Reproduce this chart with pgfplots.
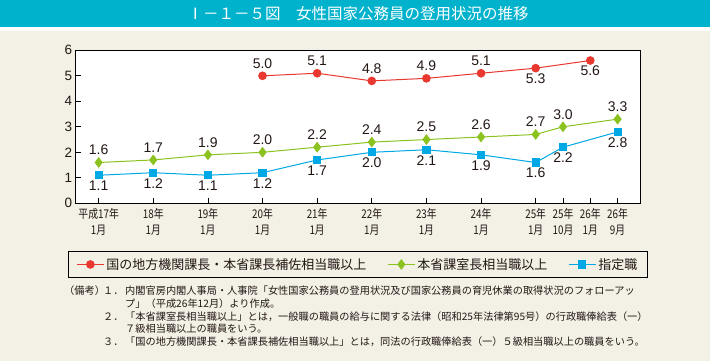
\documentclass[border=0pt]{standalone}
\usepackage{pgfplots}
\pgfplotsset{compat=1.18}
\usepackage{fontspec}
\setmainfont{Liberation Sans}
\newfontfamily\jp{Noto Sans CJK JP}
\newfontfamily\jpc[FakeStretch=0.82]{Noto Sans CJK JP}
\definecolor{bgc}{HTML}{F3F0E6}
\definecolor{titc}{HTML}{00B2CC}
\definecolor{cred}{HTML}{E8382F}
\definecolor{cgreen}{HTML}{8CC21F}
\definecolor{cblue}{HTML}{00A8E6}
\definecolor{ntext}{HTML}{231815}
\begin{document}
\begin{tikzpicture}
\useasboundingbox (0bp,0bp) rectangle (710bp,361bp);
\fill[bgc] (0bp,0bp) rectangle (710bp,361bp);
\fill[white] (0bp,330bp) rectangle (710bp,334.3bp);
\fill[titc] (0bp,334.3bp) rectangle (710bp,361bp);
\node[white, font=\jp\fontsize{15.5bp}{17bp}\selectfont] at (358bp,347bp) {Ⅰ－１－５図　女性国家公務員の登用状況の推移};
\begin{axis}[
  at={(75.7bp,157.7bp)}, anchor=south west,
  scale only axis, width=564.3bp, height=153bp,
  xmin=-0.42, xmax=9.91, ymin=0, ymax=6,
  axis background/.style={fill=white},
  axis line style={black, line width=1bp},
  every tick/.style={black, line width=0.8bp},
  major tick length=5bp,
  xtick pos=bottom, ytick pos=left,
  xtick={0,1,2,3,4,5,6,7,8,8.5,9,9.5},
  xticklabels={{平成17年\\1月},{18年\\1月},{19年\\1月},{20年\\1月},{21年\\1月},{22年\\1月},{23年\\1月},{24年\\1月},{25年\\1月},{25年\\10月},{26年\\1月},{26年\\9月}},
  xticklabel style={align=center, font=\jpc\fontsize{12bp}{15.6bp}\selectfont, text=ntext, yshift=-1.5bp},
  ytick={0,1,2,3,4,5,6},
  yticklabel style={font=\fontsize{13.5bp}{15bp}\selectfont, text=ntext},
  /pgf/number format/assume math mode=true,
  legend columns=3,
  legend cell align=left,
  legend style={at={(0.5,-0.31)}, anchor=north, draw=black, line width=1bp, fill=none,
    font=\jp\fontsize{13bp}{15bp}\selectfont, text=ntext,
    inner xsep=8bp, inner ysep=5bp,
    /tikz/every even column/.append style={column sep=19bp}},
  legend image code/.code={\draw[mark repeat=2,mark phase=2,#1] plot coordinates {(0bp,0bp) (13.5bp,0bp) (27bp,0bp)};},
]
\addplot[cred, line width=1bp, mark=*, mark size=3.8bp, mark options={fill=cred, draw=cred}]
  coordinates {(3,5.0)(4,5.1)(5,4.8)(6,4.9)(7,5.1)(8,5.3)(9,5.6)};
\addlegendentry{国の地方機関課長・本省課長補佐相当職以上}
\addplot[cgreen, line width=1bp, mark=diamond*, mark size=4.6bp, mark options={fill=cgreen, draw=cgreen}]
  coordinates {(0,1.6)(1,1.7)(2,1.9)(3,2.0)(4,2.2)(5,2.4)(6,2.5)(7,2.6)(8,2.7)(8.5,3.0)(9.5,3.3)};
\addlegendentry{本省課室長相当職以上}
\addplot[cblue, line width=1bp, mark=square*, mark size=3.6bp, mark options={fill=cblue, draw=cblue}]
  coordinates {(0,1.1)(1,1.2)(2,1.1)(3,1.2)(4,1.7)(5,2.0)(6,2.1)(7,1.9)(8,1.6)(8.5,2.2)(9.5,2.8)};
\addlegendentry{指定職}
% data labels
\pgfplotsset{lbl/.style={draw=none, mark=none, forget plot, nodes near coords,
  every node near coord/.style={anchor=center, yshift=#1, text=ntext, font=\fontsize{14bp}{16bp}\selectfont,
  /pgf/number format/.cd, fixed, fixed zerofill, precision=1}}}
\addplot[lbl=12.5bp] coordinates {(3,5.0)(4,5.1)(5,4.8)(6,4.9)(7,5.1)};
\addplot[lbl=-10.5bp] coordinates {(8,5.3)(9,5.6)};
\addplot[lbl=12.5bp] coordinates {(0,1.6)(1,1.7)(2,1.9)(3,2.0)(4,2.2)(5,2.4)(6,2.5)(7,2.6)(8,2.7)(8.5,3.0)(9.5,3.3)};
\addplot[lbl=-10.5bp] coordinates {(0,1.1)(1,1.2)(2,1.1)(3,1.2)(4,1.7)(5,2.0)(6,2.1)(7,1.9)(8,1.6)(8.5,2.2)(9.5,2.8)};
\end{axis}
\begin{scope}[font=\jp\fontsize{10.2bp}{12bp}\selectfont, text=ntext]
\node[anchor=west, inner sep=0pt] at (64bp,70bp) {（備考）};
\node[anchor=west, inner sep=0pt] at (103bp,70bp) {１．};
\node[anchor=west, inner sep=0pt] at (125bp,70bp) {内閣官房内閣人事局・人事院「女性国家公務員の登用状況及び国家公務員の育児休業の取得状況のフォローアッ};
\node[anchor=west, inner sep=0pt] at (125bp,57.4bp) {プ」（平成26年12月）より作成。};
\node[anchor=west, inner sep=0pt] at (103bp,44.8bp) {２．};
\node[anchor=west, inner sep=0pt] at (125bp,44.8bp) {「本省課室長相当職以上」とは，一般職の職員の給与に関する法律（昭和25年法律第95号）の行政職俸給表（一）};
\node[anchor=west, inner sep=0pt] at (125bp,32.1bp) {７級相当職以上の職員をいう。};
\node[anchor=west, inner sep=0pt] at (103bp,19.5bp) {３．};
\node[anchor=west, inner sep=0pt] at (125bp,19.5bp) {「国の地方機関課長・本省課長補佐相当職以上」とは，同法の行政職俸給表（一）５級相当職以上の職員をいう。};
\end{scope}
\end{tikzpicture}
\end{document}
